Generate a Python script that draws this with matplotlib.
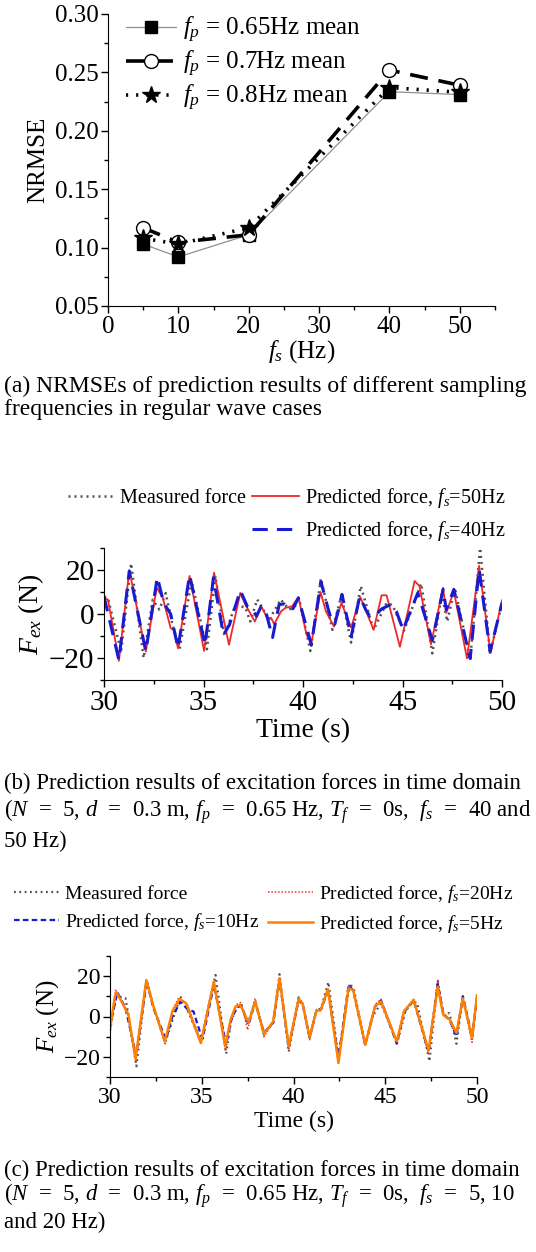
import matplotlib
matplotlib.use('Agg')
import matplotlib.pyplot as plt
from matplotlib.lines import Line2D
from matplotlib.ticker import MultipleLocator

# Times-like text with italic math symbols
plt.rcParams['font.family'] = ['Liberation Serif', 'DejaVu Serif']
plt.rcParams['mathtext.fontset'] = 'custom'
plt.rcParams['mathtext.rm'] = 'Liberation Serif'
plt.rcParams['mathtext.it'] = 'Liberation Serif:italic'

# (a) NRMSE against sampling frequency
fs = [5, 10, 20, 40, 50]
nrmse_065 = [0.103, 0.092, 0.111, 0.2335, 0.231]
nrmse_07 = [0.117, 0.1045, 0.111, 0.252, 0.239]
nrmse_08 = [0.108, 0.103, 0.117, 0.237, 0.233]

# (b) excitation force, fs = 40 and 50 Hz
b_meas_t = [30.0, 30.2, 30.86, 31.36, 31.99, 32.45, 32.78, 33.1, 33.42, 33.8, 34.4, 35.17, 35.6,
            36.05, 36.6, 37.1, 37.35, 37.7, 38.3, 38.88, 39.3, 39.85, 40.37, 40.9, 41.48, 41.93,
            42.42, 42.9, 43.55, 44.2, 44.5, 45.07, 45.94, 46.5, 46.97, 47.25, 47.63, 48.4, 48.9,
            49.4, 50.0]
b_meas_f = [8, 7, -17, 23, -20, 6.5, 2, 9.5, -4, -16, 15, -16, 17.3,
            -10, 4, 3, -3.4, 6.6, -2.6, 6.6, 2, 5, -16.8, 16.2, -7.2, 8.5,
            -13, 12.7, -7.2, 5, 4, -7.6, 13.8, -17.9, 8.9, -3.4, 11.9, -21, 30,
            -18, 5]
b_50_t = [30.0, 30.2, 30.75, 31.27, 32.1, 32.65, 32.95, 33.35, 33.5, 33.72, 34.3, 35.03, 35.53,
          36.28, 36.85, 37.1, 37.58, 37.9, 38.25, 38.4, 38.55, 38.9, 39.12, 39.45, 39.77, 40.18,
          40.42, 40.88, 41.15, 41.56, 41.93, 42.42, 42.88, 43.55, 43.95, 44.2, 44.87, 45.61, 45.85,
          46.43, 47.04, 47.2, 47.58, 48.24, 48.85, 49.42, 50.0]
b_50_f = [7.6, 6.5, -21.3, 19.9, -17.1, 12, 7.4, -6.4, -7.2, -15.6, 17.3, -16.8, 18.8,
          -14, 9.6, 4.3, -3.4, 3.5, -2.6, -1.8, -4.6, 1.2, 2.8, 3.5, 7.7, -9.5,
          -13.3, 10, 1.2, -5.7, 5, -6.1, 7.7, -7.2, 8.5, 8.5, -14.9, 15, 12.7,
          -13.8, 11.9, 0.5, 10.4, -20.2, 21.9, -17.8, 6.2]
b_40_t = [30.0, 30.75, 31.27, 32.1, 32.68, 33.0, 33.35, 33.72, 34.3, 35.08, 35.5, 36.0, 36.3,
          36.85, 37.2, 37.45, 37.66, 37.9, 38.1, 38.47, 38.8, 39.05, 39.3, 39.5, 39.77, 40.42,
          40.9, 41.25, 41.45, 41.6, 41.96, 42.42, 42.85, 43.15, 43.35, 43.6, 43.95, 44.4, 44.7,
          45.03, 45.77, 46.5, 47.04, 47.2, 47.58, 48.4, 48.85, 49.4, 50.0]
b_40_f = [8, -21, 19.5, -17, 16.8, 5, 0, -15.5, 17.7, -14, 16.5, -9.5, -5,
          10.7, 3.5, 2.5, -1, 3.5, 2, -10.7, 4.3, 4.6, 2, 2.5, 7.3, -14,
          14.7, 2.8, -3.4, -4.6, 8.9, -10.3, 8, 2, -1, -1, 2.3, 4.3, 1,
          -7.2, 9.6, -12, 11.2, 2, 11.2, -20.2, 20.4, -17, 5]

# (c) excitation force, fs = 5, 10 and 20 Hz
c_meas_t = [30.0, 30.36, 30.6, 30.85, 31.44, 31.98, 32.4, 33.0, 33.84, 34.3, 34.95, 35.75, 36.33,
            36.6, 36.9, 37.15, 37.5, 37.91, 38.39, 38.9, 39.24, 39.74, 40.28, 40.5, 40.88, 41.25,
            41.5, 41.9, 42.45, 43.07, 43.3, 43.91, 44.3, 44.77, 45.65, 46.1, 46.4, 46.73, 47.41,
            47.86, 48.16, 48.5, 48.88, 49.23, 49.73, 50.0]
c_meas_f = [-7, 11.5, 9.5, 9, -24.7, 18.5, 4, -13, 9.9, 1.6, -12.4, 20.6, -18.5,
            -2, 4, 6, -4, 8, -9, -3, 21, -17.5, 9.5, 6, -10.5, 3,
            4, 17, -20, 16.5, 13, -14.5, 0, 6.6, -13, 2.5, 6.6, 7, -22.2,
            17.8, 1.6, 1.6, -13.5, 9.9, -11.5, 10]
c_20_t = [30.0, 30.3, 31.0, 31.4, 31.98, 32.4, 33.0, 33.4, 33.75, 34.2, 34.95, 35.66, 36.28,
          36.6, 36.9, 37.15, 37.5, 37.91, 38.39, 38.9, 39.24, 39.74, 40.28, 40.5, 40.88, 41.25,
          41.5, 41.88, 42.45, 43.0, 43.25, 43.91, 44.45, 44.77, 45.63, 46.02, 46.55, 47.36, 47.86,
          48.16, 48.52, 48.88, 49.23, 49.73, 50.0]
c_20_f = [-7, 13, 2, -22, 18, 4, -13.5, 3, 9.5, 6, -12, 17.8, -16,
          -1, 6, 7, -6.6, 9, -10, -2.5, 19.5, -16, 9.5, 6.5, -11.5, 3.5,
          3, 14, -23, 15, 13, -14, 6, 8.5, -12.4, 3, 8.5, -18.5, 18,
          1, -1.5, -8.5, 9.5, -12.8, 10]
c_10_t = [30.0, 30.4, 30.85, 31.42, 32.0, 32.37, 33.05, 33.4, 33.85, 34.25, 34.55, 34.95, 35.05,
          35.66, 36.33, 36.6, 36.9, 37.15, 37.55, 37.91, 38.39, 38.9, 39.24, 39.74, 40.28, 40.5,
          40.88, 41.25, 41.5, 41.88, 42.45, 43.0, 43.25, 43.91, 44.45, 44.77, 45.63, 46.02, 46.55,
          47.36, 47.86, 48.16, 48.52, 48.88, 49.23, 49.73, 50.0]
c_10_f = [-5, 12, 4, -19.4, 17.3, 4, -11.5, 0, 7.4, 3.3, 2.5, -9, -11,
          15.6, -14, -2, 4.5, 5.5, -4, 7, -8, -3, 18, -15, 8, 6,
          -10.5, 3, 3.5, 13, -21, 15.5, 13, -14, 5, 8, -13.5, 2, 8,
          -17.5, 16, 1.5, -2, -9.9, 10, -10, 9]
c_5_t = [30.0, 30.27, 30.36, 31.0, 31.39, 31.98, 32.37, 32.99, 33.4, 33.79, 34.15, 34.95, 35.66,
         36.28, 36.57, 36.84, 37.1, 37.55, 37.91, 38.39, 38.89, 39.24, 39.74, 40.28, 40.49, 40.88,
         41.25, 41.47, 41.88, 42.45, 43.0, 43.25, 43.91, 44.45, 44.77, 45.63, 46.02, 46.55, 47.36,
         47.86, 48.16, 48.52, 48.88, 49.23, 49.73, 50.0]
c_5_f = [-6, 10, 12, 1, -21, 18, 5, -12.4, 2.5, 8.6, 6.6, -13.2, 17.3,
         -14.8, -1.6, 4.9, 5.8, -3, 7.4, -8.6, -2.5, 19, -14.8, 8.6, 6.6, -10.2,
         3, 3, 13.5, -23, 14, 13.2, -14, 5.3, 7.4, -12.4, 2.5, 8.2, -16.8,
         14.8, 0.8, -1.6, -8.2, 9, -10.7, 10.5]

W, H = 536, 1252
fig = plt.figure(figsize=(W / 100, H / 100), dpi=100)


def px_axes(left, top, right, bottom):
    return fig.add_axes([left / W, 1 - bottom / H, (right - left) / W, (bottom - top) / H])


def px_text(x, y, s, size, **kw):
    fig.text(x / W, 1 - y / H, s, fontsize=size, va='center', ha='left', **kw)


def style_axes(ax, size):
    ax.spines['top'].set_visible(False)
    ax.spines['right'].set_visible(False)
    ax.tick_params(which='major', direction='out', length=5, width=1, labelsize=size, pad=2)
    ax.tick_params(which='minor', direction='out', length=3, width=1)


# ---- panel (a)
ax = px_axes(108, 14, 495, 306)
ax.plot(fs, nrmse_065, color='#909090', lw=0.9, marker='s', ms=9,
        mfc='black', mec='black', label=r'$f_p$ = 0.65Hz mean')
ax.plot(fs, nrmse_07, color='black', lw=2.6, ls=(0, (5, 3)), marker='o', ms=10,
        mfc='white', mec='black', mew=1.0, label=r'$f_p$ = 0.7Hz mean')
ax.plot(fs, nrmse_08, color='black', lw=2.6, ls=(0, (0.6, 2.2)), marker='*', ms=13,
        mfc='black', mec='black', label=r'$f_p$ = 0.8Hz mean')
ax.set_xlim(0, 55)
ax.set_ylim(0.05, 0.30)
ax.xaxis.set_major_locator(MultipleLocator(10))
ax.xaxis.set_minor_locator(MultipleLocator(5))
ax.yaxis.set_major_locator(MultipleLocator(0.05))
ax.yaxis.set_minor_locator(MultipleLocator(0.025))
ax.yaxis.set_major_formatter(lambda v, p: f'{v:.2f}')
style_axes(ax, 18)
ax.set_ylabel('NRMSE', fontsize=18, labelpad=4)
ax.set_xlabel(r'$f_s$ (Hz)', fontsize=18, labelpad=0)
ax.legend(loc='upper left', bbox_to_anchor=(0.02, 1.03), frameon=False, fontsize=18,
          handlelength=2.0, handletextpad=0.3, labelspacing=0.15, borderaxespad=0)

px_text(4, 386, '(a) NRMSEs of prediction results of different sampling', 17)
px_text(4, 410, 'frequencies in regular wave cases', 17)

# ---- panel (b)
ax = px_axes(104, 548, 502, 680)
l_meas, = ax.plot(b_meas_t, b_meas_f, color='#505050', lw=1.8, ls=(0, (0.8, 1.6)))
l_50, = ax.plot(b_50_t, b_50_f, color='#f02828', lw=1.3)
l_40, = ax.plot(b_40_t, b_40_f, color='#1a1ad0', lw=2.2, ls=(0, (5, 3)))
ax.set_xlim(30, 50)
ax.set_ylim(-30, 30)
ax.xaxis.set_major_locator(MultipleLocator(5))
ax.xaxis.set_minor_locator(MultipleLocator(2.5))
ax.yaxis.set_major_locator(MultipleLocator(20))
ax.yaxis.set_minor_locator(MultipleLocator(10))
style_axes(ax, 21)
ax.set_xlabel('Time (s)', fontsize=20, labelpad=2)
ax.set_ylabel(r'$F_{ex}$ (N)', fontsize=20, labelpad=2)
blank = Line2D([], [], color='none')
fig.legend([l_meas, blank, l_50, l_40],
           ['Measured force', '', r'Predicted force, $f_s$=50Hz', r'Predicted force, $f_s$=40Hz'],
           ncol=2, loc='upper left', bbox_to_anchor=(68 / W, 1 - 486 / H), frameon=False,
           fontsize=14.5, handlelength=2.3, handletextpad=0.3, columnspacing=0.3,
           labelspacing=0.45, borderaxespad=0, borderpad=0)

px_text(4, 783, '(b) Prediction results of excitation forces in time domain', 16.4)
px_text(4, 812, r'($N$  =  5, $d$  =  0.3 m, $f_p$  =  0.65 Hz, $T_f$  =  0s,  $f_s$  =  40 and', 16.4)
px_text(4, 841, '50 Hz)', 16.4)

# ---- panel (c)
ax = px_axes(110, 956, 477, 1077)
m_meas, = ax.plot(c_meas_t, c_meas_f, color='#505050', lw=1.6, ls=(0, (0.8, 1.6)))
m_20, = ax.plot(c_20_t, c_20_f, color='#f03030', lw=1.1, ls=(0, (1, 1.2)))
m_10, = ax.plot(c_10_t, c_10_f, color='#1a1ad0', lw=1.6, ls=(0, (2.5, 1.5)))
m_5, = ax.plot(c_5_t, c_5_f, color='#ff8000', lw=1.8)
ax.set_xlim(30, 50)
ax.set_ylim(-30, 30)
ax.xaxis.set_major_locator(MultipleLocator(5))
ax.xaxis.set_minor_locator(MultipleLocator(2.5))
ax.yaxis.set_major_locator(MultipleLocator(20))
ax.yaxis.set_minor_locator(MultipleLocator(10))
style_axes(ax, 17)
ax.set_xlabel('Time (s)', fontsize=17, labelpad=2)
ax.set_ylabel(r'$F_{ex}$ (N)', fontsize=18, labelpad=2)
fig.legend([m_meas, m_10, m_20, m_5],
           ['Measured force', r'Predicted force, $f_s$=10Hz',
            r'Predicted force, $f_s$=20Hz', r'Predicted force, $f_s$=5Hz'],
           ncol=2, loc='upper left', bbox_to_anchor=(14 / W, 1 - 883 / H), frameon=False,
           fontsize=14, handlelength=2.3, handletextpad=0.3, columnspacing=0.5,
           labelspacing=0.4, borderaxespad=0, borderpad=0)

px_text(4, 1170, '(c) Prediction results of excitation forces in time domain', 16.4)
px_text(4, 1196, r'($N$  =  5, $d$  =  0.3 m, $f_p$  =  0.65 Hz, $T_f$  =  0s,  $f_s$  =  5, 10', 16.4)
px_text(4, 1222, 'and 20 Hz)', 16.4)

fig.savefig('out.png', dpi=100)
